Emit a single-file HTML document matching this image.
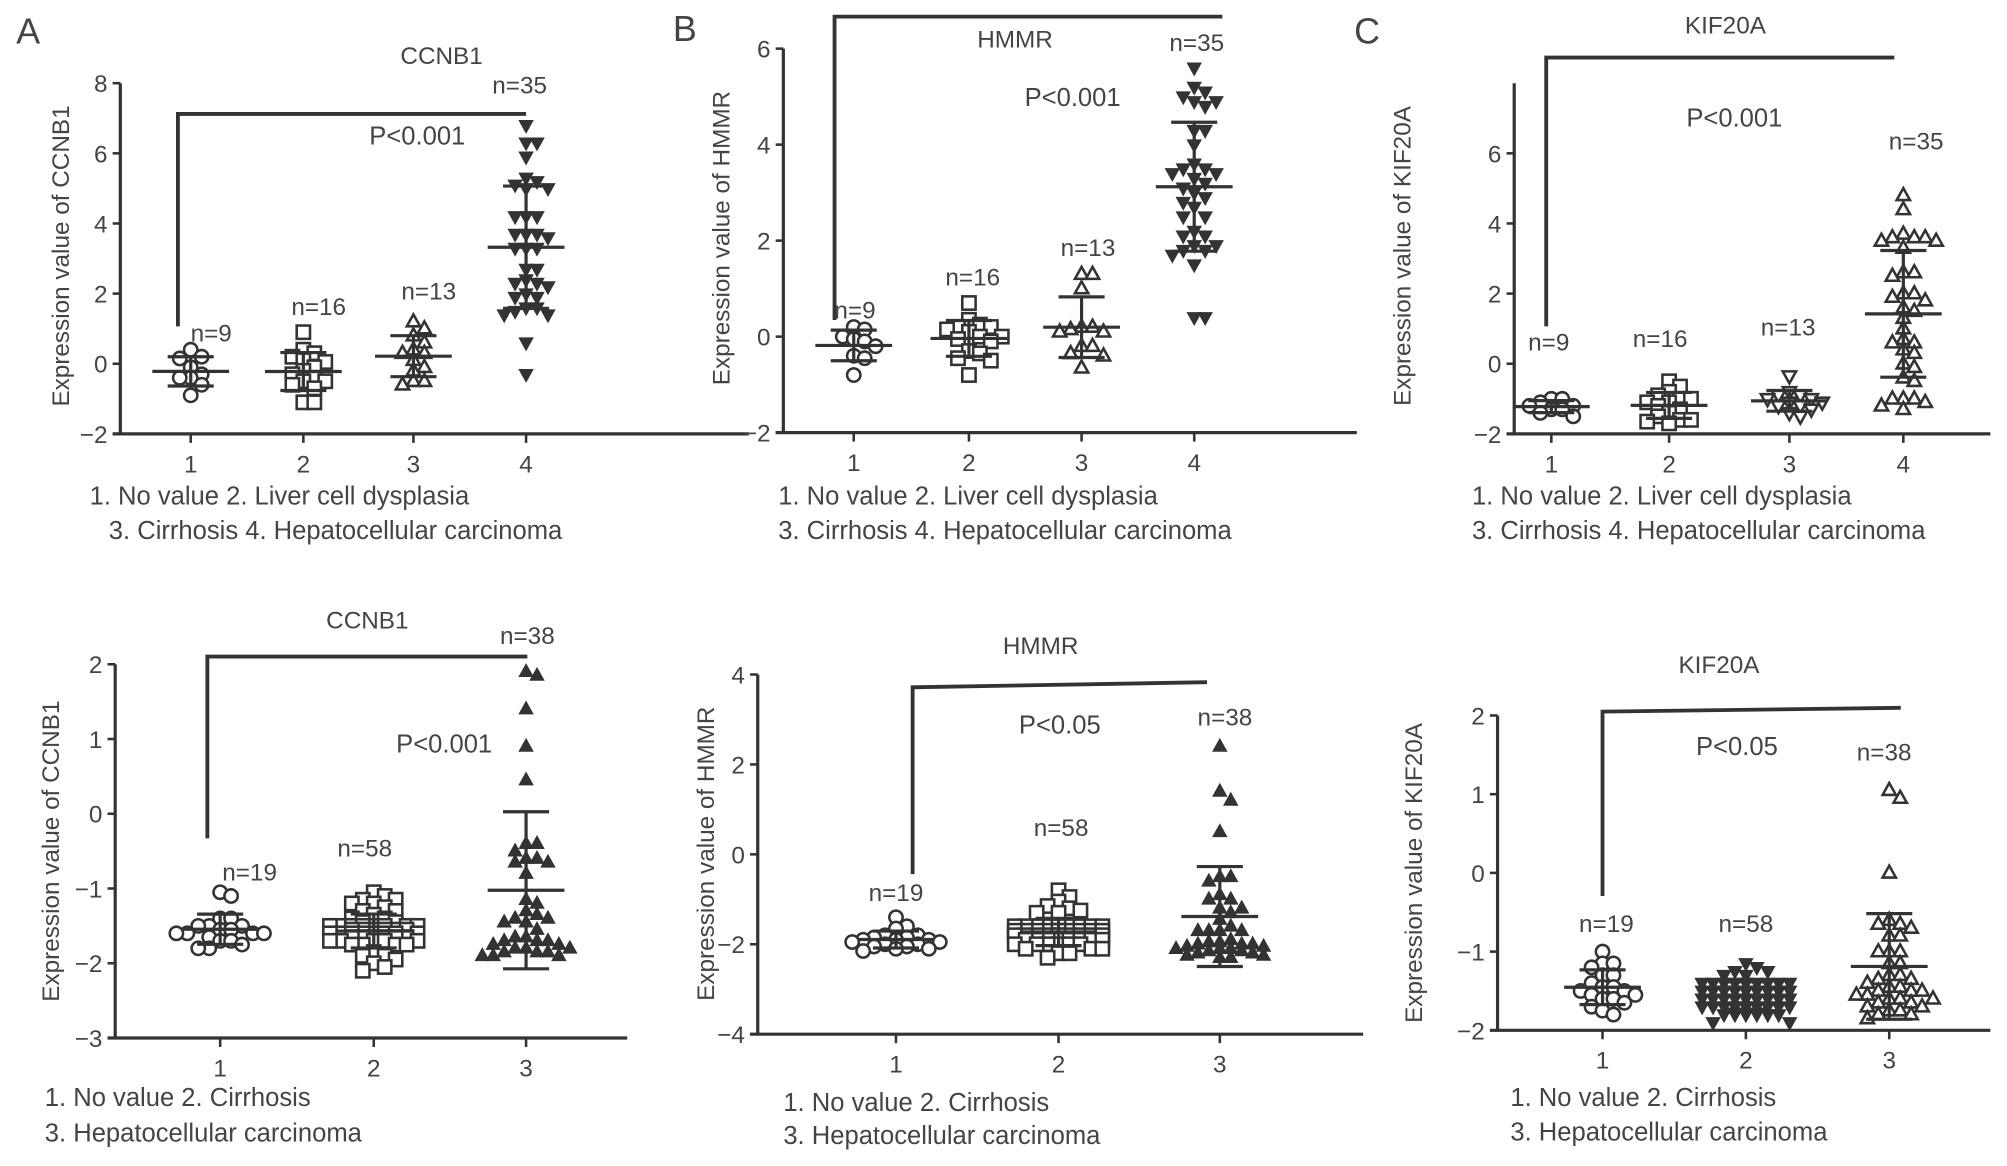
<!DOCTYPE html>
<html><head><meta charset="utf-8">
<style>
html,body{margin:0;padding:0;background:#fff;}
svg{display:block;}
text{font-family:"Liberation Sans",sans-serif;fill:#444;}
</style></head>
<body>
<svg id="fig" width="2007" height="1166" viewBox="0 0 1568 911" preserveAspectRatio="none" xmlns="http://www.w3.org/2000/svg"></svg>
<script>
// ---- data ----
const catsTop = ["1","2","3","4"];
const catsBot = ["1","2","3"];
const ticksA1 = [8,6,4,2,0,-2];
const ticksB1 = [6,4,2,0,-2];
const ticksC1 = [6,4,2,0,-2];
const ticksA2 = [2,1,0,-1,-2,-3];
const ticksB2 = [4,2,0,-2,-4];
const ticksC2 = [2,1,0,-1,-2];
const nTop = ["n=9","n=16","n=13","n=35"];
const nBot = ["n=19","n=58","n=38"];

const A1g1 = [0.4,0.15,0.2,-0.1,-0.3,-0.4,-0.4,-0.6,-0.9];
const A1g2 = [0.9,0.4,0.3,0.2,0.1,0.05,-0.1,-0.2,-0.3,-0.4,-0.5,-0.5,-0.6,-0.7,-1.1,-1.1];
const A1g3 = [1.2,1.0,0.8,0.6,0.4,0.3,0.3,0.1,-0.1,-0.2,-0.5,-0.5,-0.6];
const A1g4 = [6.8,6.3,6.3,5.9,5.3,5.2,5.1,5.0,5.0,4.2,4.2,4.2,3.7,3.7,3.7,3.3,3.3,3.3,2.7,2.7,2.4,2.3,2.3,2.2,2.0,1.9,1.9,1.6,1.6,1.5,1.4,1.4,0.6,-0.3,3.6];

const B1g1 = [0.2,0.15,0.0,-0.05,-0.1,-0.2,-0.4,-0.45,-0.8];
const B1g2 = [0.7,0.35,0.2,0.2,0.15,0.1,0.0,0.0,-0.05,-0.1,-0.3,-0.35,-0.45,-0.5,-0.8,0.25];
const B1g3 = [1.3,1.3,1.0,0.2,0.15,0.1,0.1,-0.2,-0.2,-0.35,-0.4,-0.65,0.2];
const B1g4 = [5.6,5.2,5.1,5.0,4.9,4.9,4.8,4.3,4.3,4.0,3.6,3.5,3.5,3.4,3.4,3.2,3.1,3.0,2.9,2.8,2.7,2.5,2.5,2.2,2.1,2.1,1.9,1.9,1.8,1.8,1.7,1.5,0.4,0.4,3.3];

const C1g1 = [-1.0,-1.0,-1.1,-1.2,-1.2,-1.3,-1.3,-1.4,-1.5];
const C1g2 = [-0.5,-0.65,-0.8,-0.9,-1.0,-1.0,-1.1,-1.1,-1.2,-1.3,-1.4,-1.5,-1.6,-1.6,-1.7,-1.65];
const C1g3 = [-0.35,-0.8,-0.9,-0.9,-1.0,-1.0,-1.1,-1.1,-1.2,-1.2,-1.3,-1.4,-1.5];
const C1g4 = [4.8,4.4,3.7,3.6,3.6,3.6,3.5,3.5,3.3,2.6,2.6,2.5,2.0,2.0,1.9,1.8,1.6,1.5,1.3,1.0,0.7,0.6,0.6,0.4,0.3,0.0,-0.1,-0.4,-0.5,-1.0,-1.0,-1.0,-1.3,-1.2,-1.1];

const A2g1 = [-1.05,-1.1,-1.4,-1.4,-1.5,-1.5,-1.5,-1.55,-1.55,-1.6,-1.6,-1.6,-1.6,-1.65,-1.7,-1.7,-1.75,-1.8,-1.8];
const A2g2 = [-1.05,-1.1,-1.15,-1.15,-1.2,-1.2,-1.25,-1.3,-1.3,-1.35,-1.4,-1.4,-1.45,-1.45,-1.5,-1.5,-1.5,-1.5,-1.5,-1.5,-1.5,-1.5,-1.55,-1.55,-1.55,-1.55,-1.55,-1.55,-1.6,-1.6,-1.6,-1.6,-1.6,-1.6,-1.6,-1.6,-1.65,-1.65,-1.65,-1.65,-1.65,-1.65,-1.7,-1.7,-1.7,-1.7,-1.7,-1.75,-1.75,-1.75,-1.75,-1.85,-1.9,-1.9,-1.95,-2.0,-2.05,-2.1];
const A2g3 = [1.85,1.9,1.4,0.9,0.45,-0.4,-0.4,-0.5,-0.6,-0.6,-0.65,-0.65,-0.8,-1.15,-1.2,-1.3,-1.35,-1.4,-1.4,-1.45,-1.45,-1.55,-1.65,-1.7,-1.7,-1.75,-1.75,-1.8,-1.8,-1.8,-1.85,-1.85,-1.85,-1.9,-1.9,-1.9,-1.65,-1.7];

const B2g1 = [-1.4,-1.6,-1.65,-1.8,-1.8,-1.85,-1.85,-1.9,-1.9,-1.9,-1.95,-1.95,-2.0,-2.0,-2.05,-2.05,-2.1,-2.1,-2.15];
const B2g2 = [-0.8,-0.95,-1.05,-1.15,-1.2,-1.25,-1.3,-1.3,-1.6,-1.6,-1.6,-1.6,-1.6,-1.6,-1.6,-1.6,-1.6,-1.6,-1.7,-1.7,-1.7,-1.7,-1.7,-1.7,-1.7,-1.7,-1.7,-1.7,-1.8,-1.8,-1.8,-1.8,-1.8,-1.8,-1.8,-1.8,-1.8,-1.8,-1.9,-1.9,-1.9,-1.9,-1.9,-1.9,-1.9,-1.9,-2.0,-2.0,-2.0,-2.0,-2.0,-2.0,-2.1,-2.1,-2.1,-2.2,-2.2,-2.3];
const B2g3 = [2.4,1.4,1.2,0.5,-0.5,-0.5,-0.6,-0.9,-1.0,-1.0,-1.2,-1.2,-1.3,-1.45,-1.6,-1.7,-1.7,-1.7,-1.7,-1.9,-1.95,-1.95,-2.0,-2.0,-2.0,-2.05,-2.05,-2.1,-2.1,-2.1,-2.15,-2.15,-2.2,-2.2,-2.25,-2.25,-2.3,-2.3];

const C2g1 = [-1.0,-1.15,-1.2,-1.15,-1.3,-1.3,-1.4,-1.45,-1.45,-1.5,-1.5,-1.55,-1.55,-1.6,-1.6,-1.65,-1.7,-1.75,-1.8];
const C2g2 = [-1.15,-1.2,-1.25,-1.25,-1.3,-1.3,-1.4,-1.4,-1.4,-1.4,-1.4,-1.4,-1.4,-1.4,-1.4,-1.4,-1.5,-1.5,-1.5,-1.5,-1.5,-1.5,-1.5,-1.5,-1.5,-1.5,-1.5,-1.5,-1.6,-1.6,-1.6,-1.6,-1.6,-1.6,-1.6,-1.6,-1.6,-1.6,-1.6,-1.6,-1.7,-1.7,-1.7,-1.7,-1.7,-1.7,-1.7,-1.7,-1.7,-1.7,-1.8,-1.8,-1.8,-1.8,-1.8,-1.8,-1.9,-1.9];
const C2g3 = [1.05,0.95,0.0,-0.6,-0.65,-0.65,-0.7,-0.8,-0.8,-1.0,-1.0,-1.0,-1.15,-1.15,-1.3,-1.3,-1.35,-1.35,-1.4,-1.45,-1.45,-1.5,-1.5,-1.55,-1.55,-1.6,-1.6,-1.6,-1.65,-1.65,-1.7,-1.7,-1.75,-1.75,-1.8,-1.8,-1.85,-1.5];

// ---- drawing ----
const NS="http://www.w3.org/2000/svg";
const svg=document.getElementById('fig');
const INK="#333";
function mk(tag,attrs,parent){const e=document.createElementNS(NS,tag);for(const k in attrs)e.setAttribute(k,attrs[k]);(parent||svg).appendChild(e);return e;}
function txt(x,y,s,size,parent,anchor,rot){const t=mk('text',{x:x,y:y,'font-size':size,'text-anchor':anchor||'middle'},parent);if(rot)t.setAttribute('transform','rotate(-90 '+x+' '+y+')');t.textContent=s;return t;}

function marker(g,type,x,y){
  const r=5.2;let e;
  if(type==='circle'){e=mk('circle',{cx:x,cy:y,r:r,fill:'#fff',stroke:INK,'stroke-width':2},g);}
  else if(type==='square'){e=mk('rect',{x:x-r,y:y-r,width:2*r,height:2*r,fill:'#fff',stroke:INK,'stroke-width':2},g);}
  else {
    const up=type.indexOf('up')>=0, filled=type.indexOf('fill')>=0;
    const pts=up?[[x,y-r-0.5],[x-r,y+r*0.7],[x+r,y+r*0.7]]:[[x,y+r+0.5],[x-r,y-r*0.7],[x+r,y-r*0.7]];
    e=mk('polygon',{points:pts.map(p=>p.join(',')).join(' '),fill:filled?INK:'#fff',stroke:INK,'stroke-width':filled?1:2},g);
  }
  
  
}

function drawPanel(p){
  const g=mk('g',{});
  
  
  const ymin=p.ymin,ymax=p.ymax;
  const Y=v=>p.y0+(p.y1-p.y0)*(v-ymin)/(ymax-ymin);
  const X=i=>p.cx[i];
  const ya=mk('line',{x1:p.ax,y1:p.axTop,x2:p.ax,y2:p.y0+1,stroke:INK,'stroke-width':2.5},g);
  
  const xa=mk('line',{x1:p.ax-6,y1:p.y0,x2:p.axEnd,y2:p.y0,stroke:INK,'stroke-width':2.5},g);
  
  p.ticks.forEach(t=>{
    mk('line',{x1:p.ax-6,y1:Y(t),x2:p.ax,y2:Y(t),stroke:INK,'stroke-width':2},g);
    const lab=txt(p.ax-10,Y(t)+7,(t<0?'\u2212'+(-t):''+t),19,g,'end');
    
  });
  p.cats.forEach((c,i)=>{
    mk('line',{x1:X(i),y1:p.y0,x2:X(i),y2:p.y0+7,stroke:INK,'stroke-width':2},g);
    const lab=txt(X(i),p.y0+30,c,19,g);
    
  });
  const maxHalf=p.maxHalf||40;
  p.groups.forEach((vals,i)=>{
    const placed=[];
    const sorted=vals.map(v=>v).sort((a,b)=>b-a);
    const d=9.5;
    sorted.forEach(v=>{
      const py=Y(v);let best=0,bestDist=-1;
      for(let k=0;k<40;k++){
        const off=(k===0)?0:((k%2===1)?1:-1)*Math.ceil(k/2)*d*0.9;
        if(Math.abs(off)>maxHalf)break;
        let md=1e9;placed.forEach(q=>{md=Math.min(md,Math.hypot(q[0]-(X(i)+off),q[1]-py));});
        if(md>=d*0.85){best=off;bestDist=1e9;break;}
        if(md>bestDist){bestDist=md;best=off;}
      }
      placed.push([X(i)+best,py]);
      marker(g,p.markers[i],X(i)+best,py);
    });
    const m=vals.reduce((a,b)=>a+b,0)/vals.length;
    const sd=Math.sqrt(vals.reduce((a,b)=>a+(b-m)*(b-m),0)/(vals.length-1));
    const eg=mk('g',{},g);
    
    mk('line',{x1:X(i)-30,y1:Y(m),x2:X(i)+30,y2:Y(m),stroke:INK,'stroke-width':2.5},eg);
    mk('line',{x1:X(i),y1:Y(m+sd),x2:X(i),y2:Y(m-sd),stroke:INK,'stroke-width':2.5},eg);
    mk('line',{x1:X(i)-18,y1:Y(m+sd),x2:X(i)+18,y2:Y(m+sd),stroke:INK,'stroke-width':2.5},eg);
    mk('line',{x1:X(i)-18,y1:Y(m-sd),x2:X(i)+18,y2:Y(m-sd),stroke:INK,'stroke-width':2.5},eg);
  });
  const br=mk('polyline',{points:p.br.map(q=>q.join(',')).join(' '),fill:'none',stroke:INK,'stroke-width':3},g);
  
  const t=txt(p.title[0],p.title[1],p.title[2],19,g);
  const pv=txt(p.pv[0],p.pv[1],p.pv[2],20,g);
  p.nlab.forEach((q,i)=>{const n=txt(q[0],q[1],p.ns[i],19,g);});
  const yl=txt(p.yl[0],p.yl[1],p.yl[2],19,g,'middle',true);
  p.leg.forEach(q=>{const l=txt(q[0],q[1],q[2],20,g,'start');});
}

const L1="1. No value 2. Liver cell dysplasia", L2="3. Cirrhosis 4. Hepatocellular carcinoma";
const L3="1. No value 2. Cirrhosis", L4="3. Hepatocellular carcinoma";

drawPanel({name:'panel-a-top',ymin:-2,ymax:8,y0:339,y1:65,axTop:65,ax:94,axEnd:585,cats:catsTop,cx:[149,237,323,411],ticks:ticksA1,maxHalf:32,
  groups:[A1g1,A1g2,A1g3,A1g4],markers:['circle','square','tri-up','tri-down-fill'],
  br:[[139,255],[139,89],[411,89]],title:[345,50,'CCNB1'],pv:[326,113,'P<0.001'],ns:nTop,
  nlab:[[165,267],[249,246],[335,234],[406,73]],yl:[54,200,'Expression value of CCNB1'],leg:[[70,394,L1],[85,421,L2]]});
drawPanel({name:'panel-b-top',ymin:-2,ymax:6,y0:338,y1:38,axTop:38,ax:612,axEnd:1060,cats:catsTop,cx:[667,757,845,933],ticks:ticksB1,maxHalf:32,
  groups:[B1g1,B1g2,B1g3,B1g4],markers:['circle','square','tri-up','tri-down-fill'],
  br:[[652,250],[652,13],[955,13]],title:[793,37,'HMMR'],pv:[838,83,'P<0.001'],ns:nTop,
  nlab:[[668,249],[760,223],[850,200],[935,40]],yl:[570,186,'Expression value of HMMR'],leg:[[608,394,L1],[608,421,L2]]});
drawPanel({name:'panel-c-top',ymin:-2,ymax:8,y0:339,y1:65,axTop:65,ax:1183,axEnd:1555,cats:catsTop,cx:[1212,1304,1398,1487],ticks:ticksC1,maxHalf:32,
  groups:[C1g1,C1g2,C1g3,C1g4],markers:['circle','square','tri-down','tri-up'],
  br:[[1208,255],[1208,45],[1480,45]],title:[1348,26,'KIF20A'],pv:[1355,99,'P<0.001'],ns:nTop,
  nlab:[[1210,274],[1297,271],[1397,262],[1497,117]],yl:[1102,200,'Expression value of KIF20A'],leg:[[1150,394,L1],[1150,421,L2]]});
drawPanel({name:'panel-a-bottom',ymin:-3,ymax:2,y0:811,y1:519,axTop:519,ax:90,axEnd:490,cats:catsBot,cx:[172,292,411],ticks:ticksA2,maxHalf:38,
  groups:[A2g1,A2g2,A2g3],markers:['circle','square','tri-up-fill'],
  br:[[162,655],[162,513],[412,513]],title:[287,491,'CCNB1'],pv:[347,588,'P<0.001'],ns:nBot,
  nlab:[[195,688],[285,669],[412,503]],yl:[46,665,'Expression value of CCNB1'],leg:[[35,864,L3],[35,892,L4]]});
drawPanel({name:'panel-b-bottom',ymin:-4,ymax:4,y0:808,y1:527,axTop:527,ax:592,axEnd:1065,cats:catsBot,cx:[700,827,953],ticks:ticksB2,maxHalf:40,
  groups:[B2g1,B2g2,B2g3],markers:['circle','square','tri-up-fill'],
  br:[[713,683],[713,537],[943,533]],title:[813,511,'HMMR'],pv:[828,573,'P<0.05'],ns:nBot,
  nlab:[[700,704],[829,653],[957,567]],yl:[558,667,'Expression value of HMMR'],leg:[[612,868,L3],[612,894,L4]]});
drawPanel({name:'panel-c-bottom',ymin:-2,ymax:2,y0:805,y1:559,axTop:559,ax:1170,axEnd:1555,cats:catsBot,cx:[1252,1364,1476],ticks:ticksC2,maxHalf:40,
  groups:[C2g1,C2g2,C2g3],markers:['circle','tri-down-fill','tri-up'],
  br:[[1252,700],[1252,556],[1485,553]],title:[1343,526,'KIF20A'],pv:[1357,590,'P<0.05'],ns:nBot,
  nlab:[[1255,728],[1364,728],[1472,594]],yl:[1111,682,'Expression value of KIF20A'],leg:[[1180,864,L3],[1180,891,L4]]});

[['A',22,34],['B',535,32],['C',1068,34]].forEach(q=>{
  const t=txt(q[1],q[2],q[0],28,svg);
  
  
  t.setAttribute('fill','#222');
});
</script>
</body></html>
